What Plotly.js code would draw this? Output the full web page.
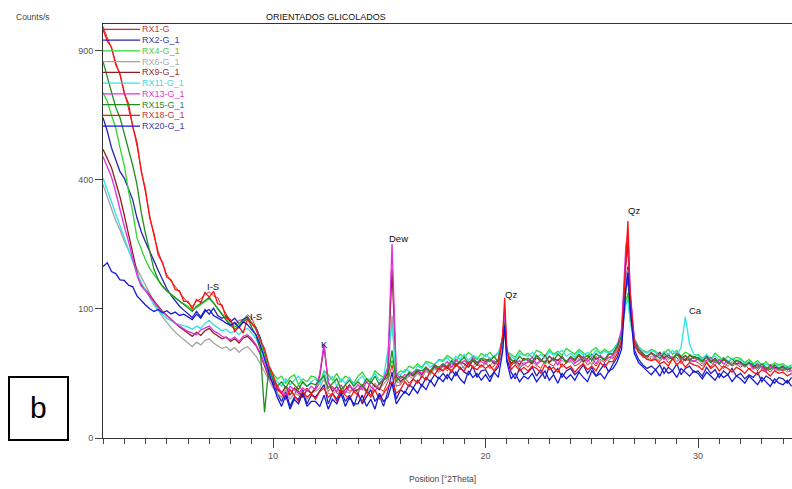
<!DOCTYPE html>
<html><head><meta charset="utf-8">
<script src="https://cdn.plot.ly/plotly-3.0.1.min.js"></script>
<style>html,body{margin:0;padding:0;background:#fff}</style>
</head><body><div id="chart" style="width:792px;height:489px"></div>
<script>
// 2-theta positions (degrees)
const X = [
2.0,2.2,2.4,2.6,2.8,3.0,3.2,3.4,3.6,3.8,
4.0,4.2,4.4,4.6,4.8,5.0,5.2,5.4,5.6,5.8,
6.0,6.2,6.4,6.6,6.8,7.0,7.2,7.4,7.6,7.8,
8.0,8.2,8.4,8.6,8.8,9.0,9.2,9.4,9.6,9.8,
10.0,10.2,10.4,10.6,10.8,11.0,11.2,11.4,11.6,11.8,
12.0,12.2,12.4,12.6,12.8,13.0,13.2,13.4,13.6,13.8,
14.0,14.2,14.4,14.6,14.8,15.0,15.2,15.4,15.6,15.8,
16.0,16.2,16.4,16.6,16.8,17.0,17.2,17.4,17.6,17.8,
18.0,18.2,18.4,18.6,18.8,19.0,19.2,19.4,19.6,19.8,
20.0,20.2,20.4,20.6,20.8,20.9,21.0,21.2,21.4,21.6,21.8,
22.0,22.2,22.4,22.6,22.8,23.0,23.2,23.4,23.6,23.8,
24.0,24.2,24.4,24.6,24.8,25.0,25.2,25.4,25.6,25.8,
26.0,26.2,26.4,26.6,26.7,26.8,27.0,27.2,27.4,27.6,27.8,
28.0,28.2,28.4,28.6,28.8,29.0,29.2,29.4,29.6,29.8,
30.0,30.2,30.4,30.6,30.8,31.0,31.2,31.4,31.6,31.8,
32.0,32.2,32.4,32.6,32.8,33.0,33.2,33.4,33.6,33.8,
34.0,34.2,34.4];

// Counts/s for each pattern
const RX1_G = [
1015,960,910,845,790,720,655,585,510,430,
360,295,245,208,182,160,147,138,127,118,
109,104,112,116,124,128,121,118,103,92,
82,76,83,84,91,86,73,60,41,28,
21,17,12,16,14,11,17,13,15,12,
14,18,24,13,16,12,11,17,13,15,
12,16,14,11,17,15,13,19,32,16,
17,22,18,21,26,22,27,25,30,26,
31,27,30,34,28,31,36,29,32,30,
35,29,31,37,56,98,46,31,35,29,33,
30,35,32,29,36,33,31,37,30,34,
36,31,33,38,32,35,31,37,34,39,
38,47,66,178,212,108,50,45,39,41,37,
38,35,40,34,37,39,33,38,35,36,
34,31,35,30,36,32,29,34,31,33,
30,33,28,31,27,32,29,26,30,28,
27,29,26];
const RX2_G_1 = [
615,565,505,465,425,405,370,340,290,255,
230,210,188,168,150,134,122,112,104,98,
93,87,96,88,99,92,101,90,86,89,
81,86,78,84,88,79,73,60,43,30,
19,12,8,13,6,10,9,14,7,11,
10,13,17,7,12,9,14,8,11,6,
12,7,10,14,8,11,6,13,26,9,
14,12,17,15,20,16,22,19,24,21,
25,21,28,23,30,26,24,31,22,27,
28,22,26,30,48,84,38,26,21,29,24,
26,30,23,28,21,31,25,29,22,27,
29,24,27,32,25,30,23,28,33,26,
33,39,54,148,176,118,47,37,32,29,31,
28,32,25,30,27,33,24,29,31,26,
27,23,30,25,28,22,27,24,29,23,
25,21,24,22,26,19,23,21,18,22,
21,18,22];
const RX4_G_1 = [
715,680,625,575,505,445,365,305,240,212,
190,172,160,148,138,130,123,117,112,108,
104,98,102,106,112,116,109,101,92,85,
78,74,78,82,85,80,71,57,41,31,
25,21,23,18,22,24,17,21,19,23,
22,18,27,24,20,25,19,23,21,18,
23,26,21,20,27,24,22,26,36,24,
27,26,31,29,33,30,35,34,32,37,
36,41,38,35,42,39,44,40,37,43,
40,44,39,43,57,72,45,42,39,46,41,
43,39,46,44,40,47,42,45,41,48,
45,42,47,43,40,46,49,43,47,44,
47,53,63,112,126,86,59,50,46,44,47,
45,41,43,47,42,46,40,44,42,39,
42,38,41,37,43,39,36,40,37,39,
38,34,37,33,36,32,35,31,34,32,
33,30,32];
const RX6_G_1 = [
385,348,318,283,260,232,212,188,172,155,
140,124,110,98,88,80,73,67,62,58,
54,50,55,52,57,59,54,51,48,50,
46,49,44,48,50,45,40,33,26,20,
15,12,10,14,9,12,11,13,9,12,
13,15,21,12,11,14,10,13,12,15,
13,16,12,15,18,14,17,21,90,19,
18,20,23,21,25,22,27,24,29,26,
28,32,27,30,34,29,33,31,35,30,
33,31,36,32,48,70,39,33,35,30,34,
34,36,31,37,33,35,39,32,36,34,
35,33,38,34,37,32,40,35,38,36,
40,45,61,150,170,101,53,44,41,37,40,
38,36,41,37,40,35,39,36,37,35,
37,33,36,34,32,36,33,31,35,32,
32,30,33,28,31,29,27,30,28,27,
29,26,27];
const RX9_G_1 = [
500,468,438,392,348,298,252,205,165,140,
132,122,112,104,96,90,84,79,74,70,
66,62,67,63,69,72,66,62,59,61,
56,59,54,60,62,57,51,42,31,22,
18,14,12,16,11,15,13,10,14,12,
15,23,50,19,13,16,12,14,17,13,
14,17,13,19,16,14,20,25,170,23,
19,22,25,23,27,24,29,26,31,28,
32,29,34,31,35,33,30,36,32,37,
35,38,33,37,61,86,45,33,37,32,38,
36,33,39,35,41,34,38,36,40,34,
39,36,41,35,38,42,37,40,36,43,
42,50,66,190,232,121,57,47,43,39,44,
40,44,38,42,37,43,39,36,41,38,
39,36,40,35,38,33,37,34,38,33,
34,32,35,30,33,31,28,32,30,29,
31,28,30];
const RX11_G_1 = [
405,368,332,298,268,238,212,186,162,145,
132,118,106,98,91,86,82,79,77,75,
74,71,75,72,79,83,77,73,69,71,
66,69,64,70,72,66,59,49,36,27,
22,19,16,21,17,20,23,18,16,19,
21,17,26,19,23,16,21,18,22,17,
20,23,18,21,25,20,22,45,76,25,
24,28,27,25,31,29,34,30,33,36,
35,39,33,40,37,42,36,41,39,37,
42,38,40,44,53,68,45,40,37,43,41,
40,44,39,42,38,45,41,43,46,40,
43,39,45,41,44,40,46,42,45,43,
46,53,65,106,116,81,57,49,45,43,46,
44,40,45,42,46,41,49,88,53,42,
41,37,42,38,40,36,39,35,38,36,
37,33,35,32,34,31,33,30,33,31,
32,29,31];
const RX13_G_1 = [
475,442,408,362,312,268,232,192,158,138,
130,120,110,102,95,89,84,79,75,71,
68,66,64,70,72,75,69,66,62,60,
58,61,56,62,64,59,52,43,32,24,
17,15,13,11,16,14,12,15,13,16,
14,25,53,18,15,13,17,12,16,14,
17,14,19,16,13,18,21,30,226,25,
21,24,23,26,28,25,30,27,32,29,
31,35,30,37,33,36,32,39,34,35,
33,37,35,32,63,92,44,37,33,36,32,
35,39,33,36,34,40,37,32,39,35,
38,34,36,40,35,39,33,41,37,39,
41,51,71,220,252,131,59,48,41,40,43,
39,42,37,41,38,43,36,40,38,35,
38,35,36,39,34,37,33,35,32,36,
33,31,34,29,32,30,27,31,29,28,
28,30,27];
const RX15_G_1 = [
850,785,715,655,615,555,505,445,385,305,
250,205,170,150,138,130,124,118,112,106,
101,96,104,108,113,119,109,100,90,83,
76,71,75,80,86,73,63,47,4,29,
21,16,19,15,20,17,14,19,16,18,
17,20,23,15,18,21,14,17,20,16,
19,16,21,18,23,17,20,22,46,19,
23,21,26,24,28,27,30,26,32,30,
33,30,36,32,35,39,33,37,34,38,
37,35,40,34,58,80,43,37,34,40,36,
38,35,41,37,34,40,36,42,38,35,
40,37,42,38,41,36,43,39,37,42,
43,51,63,131,151,96,56,47,42,40,43,
41,38,43,39,37,42,38,41,36,40,
38,35,39,34,37,33,38,35,32,36,
35,31,34,32,29,33,30,28,32,29,
30,28,29];
const RX18_G_1 = [
1000,945,915,835,795,710,670,580,525,425,
370,290,250,200,185,155,150,132,130,112,
112,100,115,110,127,119,129,108,106,86,
84,68,74,66,85,78,71,57,48,32,
24,15,12,9,14,11,8,13,10,12,
9,13,15,10,12,8,14,11,9,13,
11,8,13,10,14,9,12,15,19,12,
14,19,16,21,18,23,20,27,24,29,
27,31,26,33,29,27,34,30,28,32,
29,32,27,33,61,118,49,28,32,27,30,
27,31,29,25,32,28,30,26,33,29,
31,26,30,33,28,31,27,34,30,35,
35,43,57,202,282,128,53,44,40,37,36,
37,33,35,31,38,32,36,30,34,32,
31,28,34,29,32,27,31,29,26,30,
28,25,29,26,24,28,26,23,27,25,
26,23,25];
const RX20_G_1 = [
176,184,166,162,150,149,140,137,121,113,
106,100,96,99,94,97,92,95,90,92,
88,84,92,86,96,99,90,87,83,79,
76,80,73,81,77,70,64,52,37,26,
17,10,6,11,5,9,7,12,6,8,
8,6,11,5,9,7,12,6,10,7,
7,11,6,9,5,12,8,10,18,7,
10,13,11,15,12,17,14,20,16,22,
19,24,20,26,21,18,27,22,25,20,
24,19,26,22,44,76,35,21,25,19,23,
21,25,19,23,27,20,24,18,25,21,
24,20,26,22,19,27,23,25,21,27,
29,35,47,133,164,104,43,34,30,27,24,
28,23,30,25,27,22,29,26,23,27,
25,21,26,23,20,25,22,24,19,23,
21,18,23,20,17,22,19,16,21,18,
17,20,16];

const SERIES_NAMES = ['RX1-G','RX2-G_1','RX4-G_1','RX6-G_1','RX9-G_1','RX11-G_1','RX13-G_1','RX15-G_1','RX18-G_1','RX20-G_1'];
const SERIES_VALUES = [RX1_G,RX2_G_1,RX4_G_1,RX6_G_1,RX9_G_1,RX11_G_1,RX13_G_1,RX15_G_1,RX18_G_1,RX20_G_1];
const Y_TICK_COUNTS = [0,100,400,900];
const PEAK_NAMES = ['I-S','I-S','K','Dew','Qz','Qz','Ca'];
const PEAK_2THETA = [7.18,9.2,12.4,15.92,21.2,26.99,29.86];
const PEAK_LABEL_COUNTS = [137,88,52,238,123,309,97];

// styles
const LINE_COLORS = ['#dd2222','#2424b4','#2ed82e','#a3a3a3','#8e1f1f','#2fe3e3','#e02fe0','#1f8e1f','#ff1111','#1515e0'];
const TEXT_COLORS = ['#c83a3a','#3a3aaa','#4ccc4c','#ababab','#8a3030','#3fdcdc','#d23fd2','#2e8a2e','#c83a3a','#3a3aaa'];

const L = 103, T = 24, W = 689, H = 414;
const px = x => (x - L) / W;
const py = y => (T + H - y) / H;

const traces = SERIES_VALUES.map((vals, i) => ({
  x: X, y: vals.map(v => Math.sqrt(v)), type: 'scatter', mode: 'lines',
  name: SERIES_NAMES[i], showlegend: false, hoverinfo: 'skip',
  line: {color: LINE_COLORS[i], width: (i === 0) ? 1 : 1.3}
}));

const font = 'Liberation Sans, Arial, sans-serif';
const shapes = [];
const annotations = [];
SERIES_NAMES.forEach((n, i) => {
  const yy = 29.3 + i * 10.75;
  shapes.push({type: 'line', xref: 'paper', yref: 'paper', x0: px(103), x1: px(140), y0: py(yy), y1: py(yy),
    line: {color: LINE_COLORS[i], width: 1.2}});
  annotations.push({xref: 'paper', yref: 'paper', x: px(140.5), y: py(yy), xanchor: 'left', yanchor: 'middle',
    text: n, showarrow: false, font: {family: font, size: 9, color: TEXT_COLORS[i]}, borderpad: 0});
});
PEAK_NAMES.forEach((n, i) => {
  annotations.push({xref: 'x', yref: 'y', x: PEAK_2THETA[i], y: Math.sqrt(PEAK_LABEL_COUNTS[i]),
    text: n, showarrow: false, font: {family: font, size: 9.5, color: '#111'}, xanchor: 'center', yanchor: 'middle'});
});
annotations.push({xref: 'paper', yref: 'paper', x: px(326), y: py(17), text: 'ORIENTADOS GLICOLADOS', showarrow: false,
  font: {family: font, size: 9, color: '#111'}, xanchor: 'center', yanchor: 'middle'});
annotations.push({xref: 'paper', yref: 'paper', x: px(14), y: py(17), text: 'Counts/s', showarrow: false,
  font: {family: font, size: 8.5, color: '#444'}, xanchor: 'left', yanchor: 'middle'});
annotations.push({xref: 'paper', yref: 'paper', x: px(442), y: py(479), text: 'Position [°2Theta]', showarrow: false,
  font: {family: font, size: 8.5, color: '#444'}, xanchor: 'center', yanchor: 'middle'});
shapes.push({type: 'rect', xref: 'paper', yref: 'paper', x0: px(9), x1: px(68), y0: py(440), y1: py(377),
  line: {color: '#000', width: 2}, fillcolor: 'rgba(0,0,0,0)'});
annotations.push({xref: 'paper', yref: 'paper', x: px(38.5), y: py(407), text: 'b', showarrow: false,
  font: {family: font, size: 30, color: '#000'}, xanchor: 'center', yanchor: 'middle'});

const layout = {
  width: 792, height: 489,
  margin: {l: L, r: 0, t: T, b: 489 - T - H, pad: 0},
  paper_bgcolor: '#fff', plot_bgcolor: '#fff',
  showlegend: false,
  xaxis: {range: [2.0, 34.42], showgrid: false, zeroline: false, showline: true, linecolor: '#333', linewidth: 1,
    mirror: true, ticks: 'outside', ticklen: 9, tickcolor: '#444', tickwidth: 1, tick0: 0, dtick: 10,
    tickfont: {family: font, size: 9, color: '#555'},
    minor: {dtick: 1, tick0: 0, ticks: 'outside', ticklen: 5, tickcolor: '#444', showgrid: false}},
  yaxis: {range: [0, 32.05], showgrid: false, zeroline: false, showline: true, linecolor: '#333', linewidth: 1,
    ticks: 'outside', ticklen: 7, tickcolor: '#444', tickmode: 'array',
    tickvals: Y_TICK_COUNTS.map(v => Math.sqrt(v)), ticktext: Y_TICK_COUNTS.map(String),
    tickfont: {family: font, size: 9, color: '#555'}},
  shapes: shapes,
  annotations: annotations
};
Plotly.newPlot('chart', traces, layout, {displayModeBar: false, staticPlot: true});
</script>
</body></html>
